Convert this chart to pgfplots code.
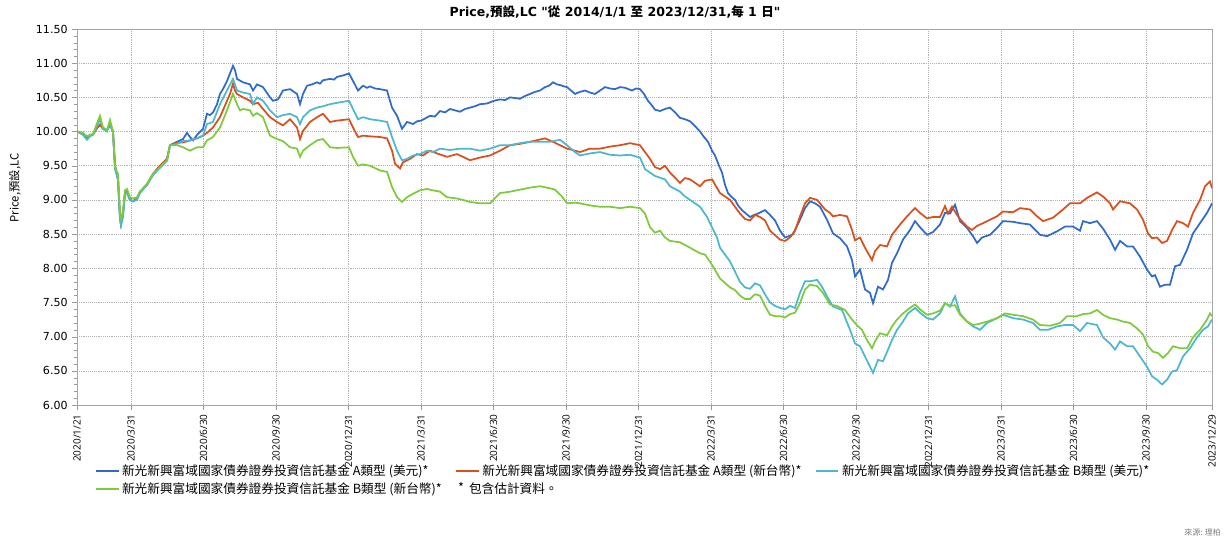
\documentclass[border=0pt]{standalone}
\usepackage{fontspec}
\setmainfont{DejaVu Sans}
\newfontfamily\vfont{DejaVu Sans}
\newfontfamily\cjk{Noto Sans CJK TC}
\newfontfamily\xfont{Open Sans}
\usepackage{pgfplots}
\pgfplotsset{compat=1.18}
\definecolor{cblue}{RGB}{47,107,203}
\definecolor{cred}{RGB}{217,80,30}
\definecolor{ccyan}{RGB}{75,184,207}
\definecolor{cgreen}{RGB}{125,203,59}
\begin{document}
\begin{tikzpicture}
\useasboundingbox (0,0) rectangle (922.5pt,405pt);
\node[font=\vfont\bfseries\fontsize{9.4}{11}\selectfont] at (461.25pt,396pt) {Price,{\cjk\bfseries 預設},LC "{\cjk\bfseries 從} 2014/1/1 {\cjk\bfseries 至} 2023/12/31,{\cjk\bfseries 每} 1 {\cjk\bfseries 日}"};
\node[rotate=90,font=\cjk\fontsize{8.5}{10}\selectfont] at (11.25pt,264pt) {Price,預設,LC};
\node[font=\cjk\fontsize{6}{7}\selectfont,text=gray] at (902pt,5.5pt) {來源: 理柏};
\begin{axis}[
  at={(57.75pt,101.25pt)}, anchor=south west,
  scale only axis, width=851.25pt, height=282pt,
  xmin=77, xmax=1212, ymin=6, ymax=11.5,
  xtick={77,131,203.5,276,348.5,421,493.5,566,638.5,711,783.5,856,928.5,1001,1073.5,1146,1212},
  xticklabels={2020/1/21,2020/3/31,2020/6/30,2020/9/30,2020/12/31,2021/3/31,2021/6/30,2021/9/30,2021/12/31,2022/3/31,2022/6/30,2022/9/30,2022/12/31,2023/3/31,2023/6/30,2023/9/30,2023/12/29},
  xticklabel style={rotate=90, anchor=east, font=\xfont\fontsize{7.5}{9}\selectfont},
  ytick={6,6.5,...,11.5},
  minor y tick num=4,
  yticklabel style={font=\fontsize{8.3}{10}\selectfont, /pgf/number format/.cd, fixed, fixed zerofill, precision=2, assume math mode=true},
  tick pos=left, tick align=outside,
  major tick length=3.5pt, minor tick length=2pt,
  tick style={gray!80},
  axis line style={gray!70},
  grid=major,
  major grid style={gray!60, densely dotted, line width=0.45pt},
  legend columns=3,
  legend style={draw=none, fill=none, at={(axis description cs:0.012,-0.143)}, anchor=north west,
    font=\cjk\fontsize{9.5}{11.5}\selectfont,
    /tikz/every even column/.append style={column sep=8pt}},
  legend cell align=left,
]
\addplot[cblue, line width=1.3pt] table {
x y
77 10.00
83 9.97
87 9.90
90 9.95
93 9.96
97 10.05
100 10.10
103 10.04
107 10.02
110 10.10
113 10.00
115 9.50
118 9.30
120 8.75
121 8.65
123 8.80
125 9.10
127 9.12
130 9.00
133 8.98
137 9.02
140 9.12
147 9.22
153 9.38
160 9.50
167 9.60
170 9.80
177 9.85
183 9.89
187 9.98
190 9.92
193 9.87
197 9.95
203 10.04
207 10.26
210 10.24
213 10.28
217 10.40
220 10.55
223 10.62
227 10.74
230 10.85
233 10.96
235 10.90
237 10.77
243 10.72
250 10.69
253 10.60
257 10.69
263 10.65
270 10.50
273 10.45
278 10.47
283 10.60
290 10.62
297 10.55
300 10.40
303 10.55
307 10.67
312 10.69
317 10.72
320 10.70
323 10.75
330 10.77
334 10.76
337 10.80
343 10.82
349 10.85
353 10.74
358 10.60
363 10.67
367 10.64
370 10.66
375 10.63
380 10.62
387 10.60
392 10.35
397 10.23
402 10.04
407 10.14
413 10.11
417 10.15
421 10.16
425 10.19
430 10.23
435 10.22
440 10.30
445 10.28
450 10.33
455 10.31
460 10.29
465 10.33
470 10.35
475 10.37
480 10.40
487 10.41
494 10.45
500 10.47
505 10.46
510 10.50
515 10.49
520 10.48
525 10.52
530 10.55
535 10.58
540 10.60
545 10.65
549 10.67
553 10.72
557 10.69
560 10.68
564 10.66
567 10.65
571 10.60
575 10.55
580 10.58
585 10.60
590 10.57
595 10.55
600 10.60
605 10.65
610 10.63
615 10.62
620 10.65
625 10.64
632 10.60
636 10.63
640 10.62
644 10.55
648 10.45
652 10.38
655 10.32
660 10.30
665 10.33
670 10.35
675 10.28
680 10.20
685 10.18
690 10.15
695 10.08
700 10.00
704 9.92
708 9.85
712 9.72
715 9.65
719 9.50
722 9.40
725 9.22
728 9.10
731 9.05
735 9.00
738 8.92
742 8.85
746 8.80
750 8.75
754 8.78
758 8.80
762 8.83
765 8.85
770 8.78
775 8.70
780 8.55
785 8.45
789 8.47
793 8.50
800 8.71
805 8.88
810 8.98
815 8.95
820 8.90
827 8.71
833 8.51
840 8.44
847 8.32
852 8.12
855 7.88
860 7.98
865 7.69
870 7.64
873 7.49
878 7.73
883 7.69
888 7.83
892 8.08
897 8.22
903 8.42
910 8.56
915 8.69
920 8.60
927 8.49
933 8.53
940 8.64
945 8.81
950 8.80
955 8.93
960 8.69
967 8.59
973 8.47
977 8.37
982 8.45
990 8.49
997 8.59
1003 8.69
1013 8.68
1020 8.66
1030 8.64
1040 8.49
1047 8.47
1057 8.54
1065 8.61
1073 8.61
1080 8.55
1083 8.69
1090 8.66
1097 8.69
1103 8.58
1110 8.42
1115 8.27
1120 8.40
1127 8.32
1133 8.32
1140 8.17
1147 7.98
1152 7.88
1155 7.90
1160 7.73
1165 7.76
1170 7.76
1175 8.03
1180 8.05
1187 8.27
1193 8.51
1200 8.66
1207 8.81
1212 8.95
};
\addlegendentry{新光新興富域國家債券證券投資信託基金 A類型 (美元)*}
\addplot[cred, line width=1.3pt] table {
x y
77 10.00
83 9.97
87 9.90
90 9.95
93 9.96
97 10.05
100 10.10
103 10.04
107 10.02
110 10.10
113 10.00
115 9.50
118 9.30
120 8.75
121 8.65
123 8.80
125 9.10
127 9.12
130 9.00
133 8.98
137 9.02
140 9.12
147 9.22
153 9.38
160 9.50
167 9.60
170 9.80
177 9.84
183 9.84
190 9.87
197 9.90
203 9.94
207 9.98
213 10.06
220 10.21
227 10.45
230 10.55
233 10.70
235 10.60
237 10.55
243 10.50
250 10.45
253 10.40
258 10.42
263 10.33
270 10.21
277 10.14
283 10.09
290 10.18
297 10.06
300 9.89
303 10.01
310 10.14
317 10.21
323 10.26
330 10.14
337 10.16
349 10.18
353 10.06
358 9.92
363 9.94
370 9.93
380 9.92
387 9.90
392 9.72
395 9.53
400 9.46
403 9.55
410 9.60
417 9.67
423 9.65
430 9.72
437 9.68
447 9.63
457 9.67
463 9.63
470 9.58
480 9.62
490 9.65
500 9.72
510 9.80
520 9.82
530 9.85
545 9.90
553 9.85
560 9.80
567 9.75
575 9.72
580 9.70
590 9.75
600 9.75
610 9.78
620 9.80
630 9.83
640 9.80
645 9.70
650 9.60
655 9.48
660 9.45
665 9.50
670 9.40
680 9.25
685 9.32
690 9.30
700 9.20
705 9.28
712 9.30
716 9.20
720 9.10
730 9.00
735 8.90
740 8.80
745 8.72
750 8.70
755 8.78
760 8.75
765 8.70
770 8.55
780 8.42
785 8.40
790 8.45
795 8.55
800 8.76
805 8.95
810 9.03
817 9.00
820 8.95
825 8.86
830 8.81
833 8.76
840 8.78
847 8.76
852 8.56
855 8.41
860 8.45
865 8.30
872 8.12
875 8.25
880 8.34
887 8.32
892 8.49
900 8.64
907 8.76
915 8.88
920 8.81
927 8.73
933 8.75
940 8.75
945 8.91
948 8.80
952 8.90
957 8.78
960 8.72
967 8.61
972 8.56
977 8.62
983 8.66
990 8.71
997 8.76
1003 8.83
1013 8.82
1020 8.88
1030 8.86
1037 8.76
1043 8.69
1053 8.74
1063 8.86
1070 8.95
1080 8.95
1087 9.03
1097 9.11
1103 9.05
1110 8.95
1113 8.86
1120 8.98
1130 8.95
1137 8.86
1143 8.71
1148 8.51
1152 8.44
1157 8.45
1162 8.37
1167 8.40
1172 8.56
1177 8.69
1183 8.66
1188 8.61
1193 8.81
1200 9.00
1205 9.20
1210 9.27
1212 9.17
};
\addlegendentry{新光新興富域國家債券證券投資信託基金 A類型 (新台幣)*}
\addplot[ccyan, line width=1.3pt] table {
x y
77 10.00
83 9.95
87 9.88
90 9.93
93 9.95
97 10.08
100 10.18
103 10.04
107 10.00
110 10.12
113 9.98
115 9.45
118 9.30
120 8.70
121 8.62
123 8.75
125 9.08
127 9.10
130 9.00
133 8.98
137 9.00
140 9.10
147 9.22
153 9.36
160 9.47
167 9.57
170 9.80
177 9.82
183 9.86
190 9.87
197 9.90
203 9.94
207 10.11
213 10.14
220 10.40
227 10.60
233 10.77
237 10.60
243 10.57
250 10.55
253 10.40
257 10.50
263 10.45
270 10.31
277 10.21
283 10.24
290 10.26
297 10.21
300 10.11
303 10.21
310 10.31
317 10.35
323 10.37
330 10.40
337 10.42
349 10.45
353 10.33
358 10.18
363 10.21
370 10.18
380 10.16
387 10.14
392 9.92
397 9.72
402 9.58
407 9.60
413 9.65
420 9.67
427 9.72
433 9.70
440 9.75
450 9.73
460 9.75
470 9.75
480 9.72
490 9.75
500 9.80
510 9.80
520 9.83
530 9.85
550 9.85
560 9.88
567 9.80
575 9.70
580 9.65
590 9.68
600 9.70
610 9.66
620 9.65
630 9.66
640 9.62
645 9.45
650 9.40
655 9.35
665 9.30
670 9.20
680 9.12
685 9.05
695 8.95
700 8.90
707 8.75
712 8.60
717 8.45
720 8.30
725 8.20
730 8.10
735 7.95
740 7.80
745 7.72
750 7.70
755 7.78
760 7.75
765 7.62
770 7.50
775 7.45
780 7.42
785 7.40
790 7.45
795 7.42
800 7.64
805 7.81
810 7.81
817 7.83
822 7.73
827 7.59
833 7.44
842 7.39
850 7.10
855 6.90
860 6.86
865 6.71
870 6.56
873 6.47
878 6.66
883 6.64
888 6.81
892 6.95
897 7.10
902 7.20
908 7.34
915 7.42
920 7.35
927 7.27
933 7.25
940 7.34
945 7.49
950 7.44
955 7.59
960 7.34
967 7.22
973 7.15
980 7.10
987 7.20
997 7.27
1003 7.32
1013 7.27
1023 7.25
1033 7.20
1040 7.10
1048 7.10
1057 7.15
1065 7.17
1073 7.17
1080 7.08
1087 7.20
1097 7.17
1103 6.99
1110 6.90
1115 6.81
1120 6.93
1127 6.86
1133 6.86
1140 6.71
1147 6.56
1152 6.42
1157 6.37
1162 6.30
1167 6.37
1172 6.49
1177 6.51
1183 6.71
1190 6.83
1197 6.99
1203 7.10
1208 7.15
1212 7.25
};
\addlegendentry{新光新興富域國家債券證券投資信託基金 B類型 (美元)*}
\addplot[cgreen, line width=1.3pt] table {
x y
77 10.00
83 9.98
87 9.93
90 9.95
93 9.96
97 10.12
100 10.23
103 10.06
107 10.02
110 10.17
113 10.00
115 9.48
118 9.38
120 8.80
121 8.72
123 8.85
125 9.14
127 9.16
130 9.04
133 9.02
137 9.04
140 9.12
147 9.24
153 9.38
160 9.48
167 9.58
170 9.80
177 9.80
183 9.77
190 9.72
197 9.77
203 9.77
207 9.87
213 9.92
220 10.06
227 10.31
233 10.55
237 10.40
240 10.31
243 10.33
250 10.31
253 10.23
257 10.27
263 10.21
270 9.94
277 9.89
283 9.86
290 9.77
297 9.75
300 9.63
303 9.72
310 9.80
317 9.87
323 9.89
330 9.77
337 9.76
349 9.77
353 9.63
358 9.50
363 9.52
370 9.50
380 9.43
387 9.41
392 9.19
397 9.04
402 8.97
407 9.04
413 9.09
420 9.14
427 9.16
433 9.14
440 9.12
447 9.04
457 9.02
463 9.00
470 8.97
480 8.95
490 8.95
500 9.10
510 9.12
520 9.15
530 9.18
540 9.20
550 9.17
555 9.15
562 9.05
567 8.95
575 8.96
580 8.95
590 8.92
600 8.90
610 8.90
620 8.88
630 8.90
640 8.88
645 8.80
650 8.60
655 8.52
660 8.55
665 8.45
670 8.40
680 8.38
690 8.30
700 8.22
705 8.20
712 8.05
716 7.95
720 7.85
730 7.72
735 7.68
740 7.60
745 7.55
750 7.55
755 7.62
760 7.60
765 7.45
770 7.32
775 7.30
780 7.30
785 7.28
790 7.33
795 7.35
800 7.49
805 7.69
810 7.76
817 7.74
823 7.64
830 7.47
837 7.45
845 7.39
852 7.25
858 7.15
862 7.10
867 6.95
872 6.83
875 6.93
880 7.05
887 7.02
892 7.15
897 7.25
903 7.34
910 7.42
915 7.47
920 7.40
927 7.32
933 7.34
940 7.38
945 7.49
950 7.45
955 7.46
960 7.32
967 7.22
973 7.17
980 7.19
987 7.22
997 7.27
1005 7.34
1013 7.32
1023 7.30
1033 7.25
1040 7.17
1050 7.16
1060 7.20
1067 7.30
1077 7.30
1083 7.33
1090 7.34
1097 7.39
1103 7.32
1110 7.27
1117 7.25
1123 7.22
1130 7.20
1137 7.12
1143 7.03
1148 6.86
1153 6.78
1158 6.76
1163 6.69
1168 6.76
1173 6.86
1180 6.83
1187 6.83
1193 6.99
1200 7.10
1207 7.25
1210 7.34
1212 7.30
};
\addlegendentry{新光新興富域國家債券證券投資信託基金 B類型 (新台幣)*}
\addlegendimage{legend image code/.code={\node[anchor=west,inner sep=0pt] at (0.05cm,0cm) {*};}}
\addlegendentry{\hspace*{-10pt}包含估計資料。}
\end{axis}
\end{tikzpicture}
\end{document}
